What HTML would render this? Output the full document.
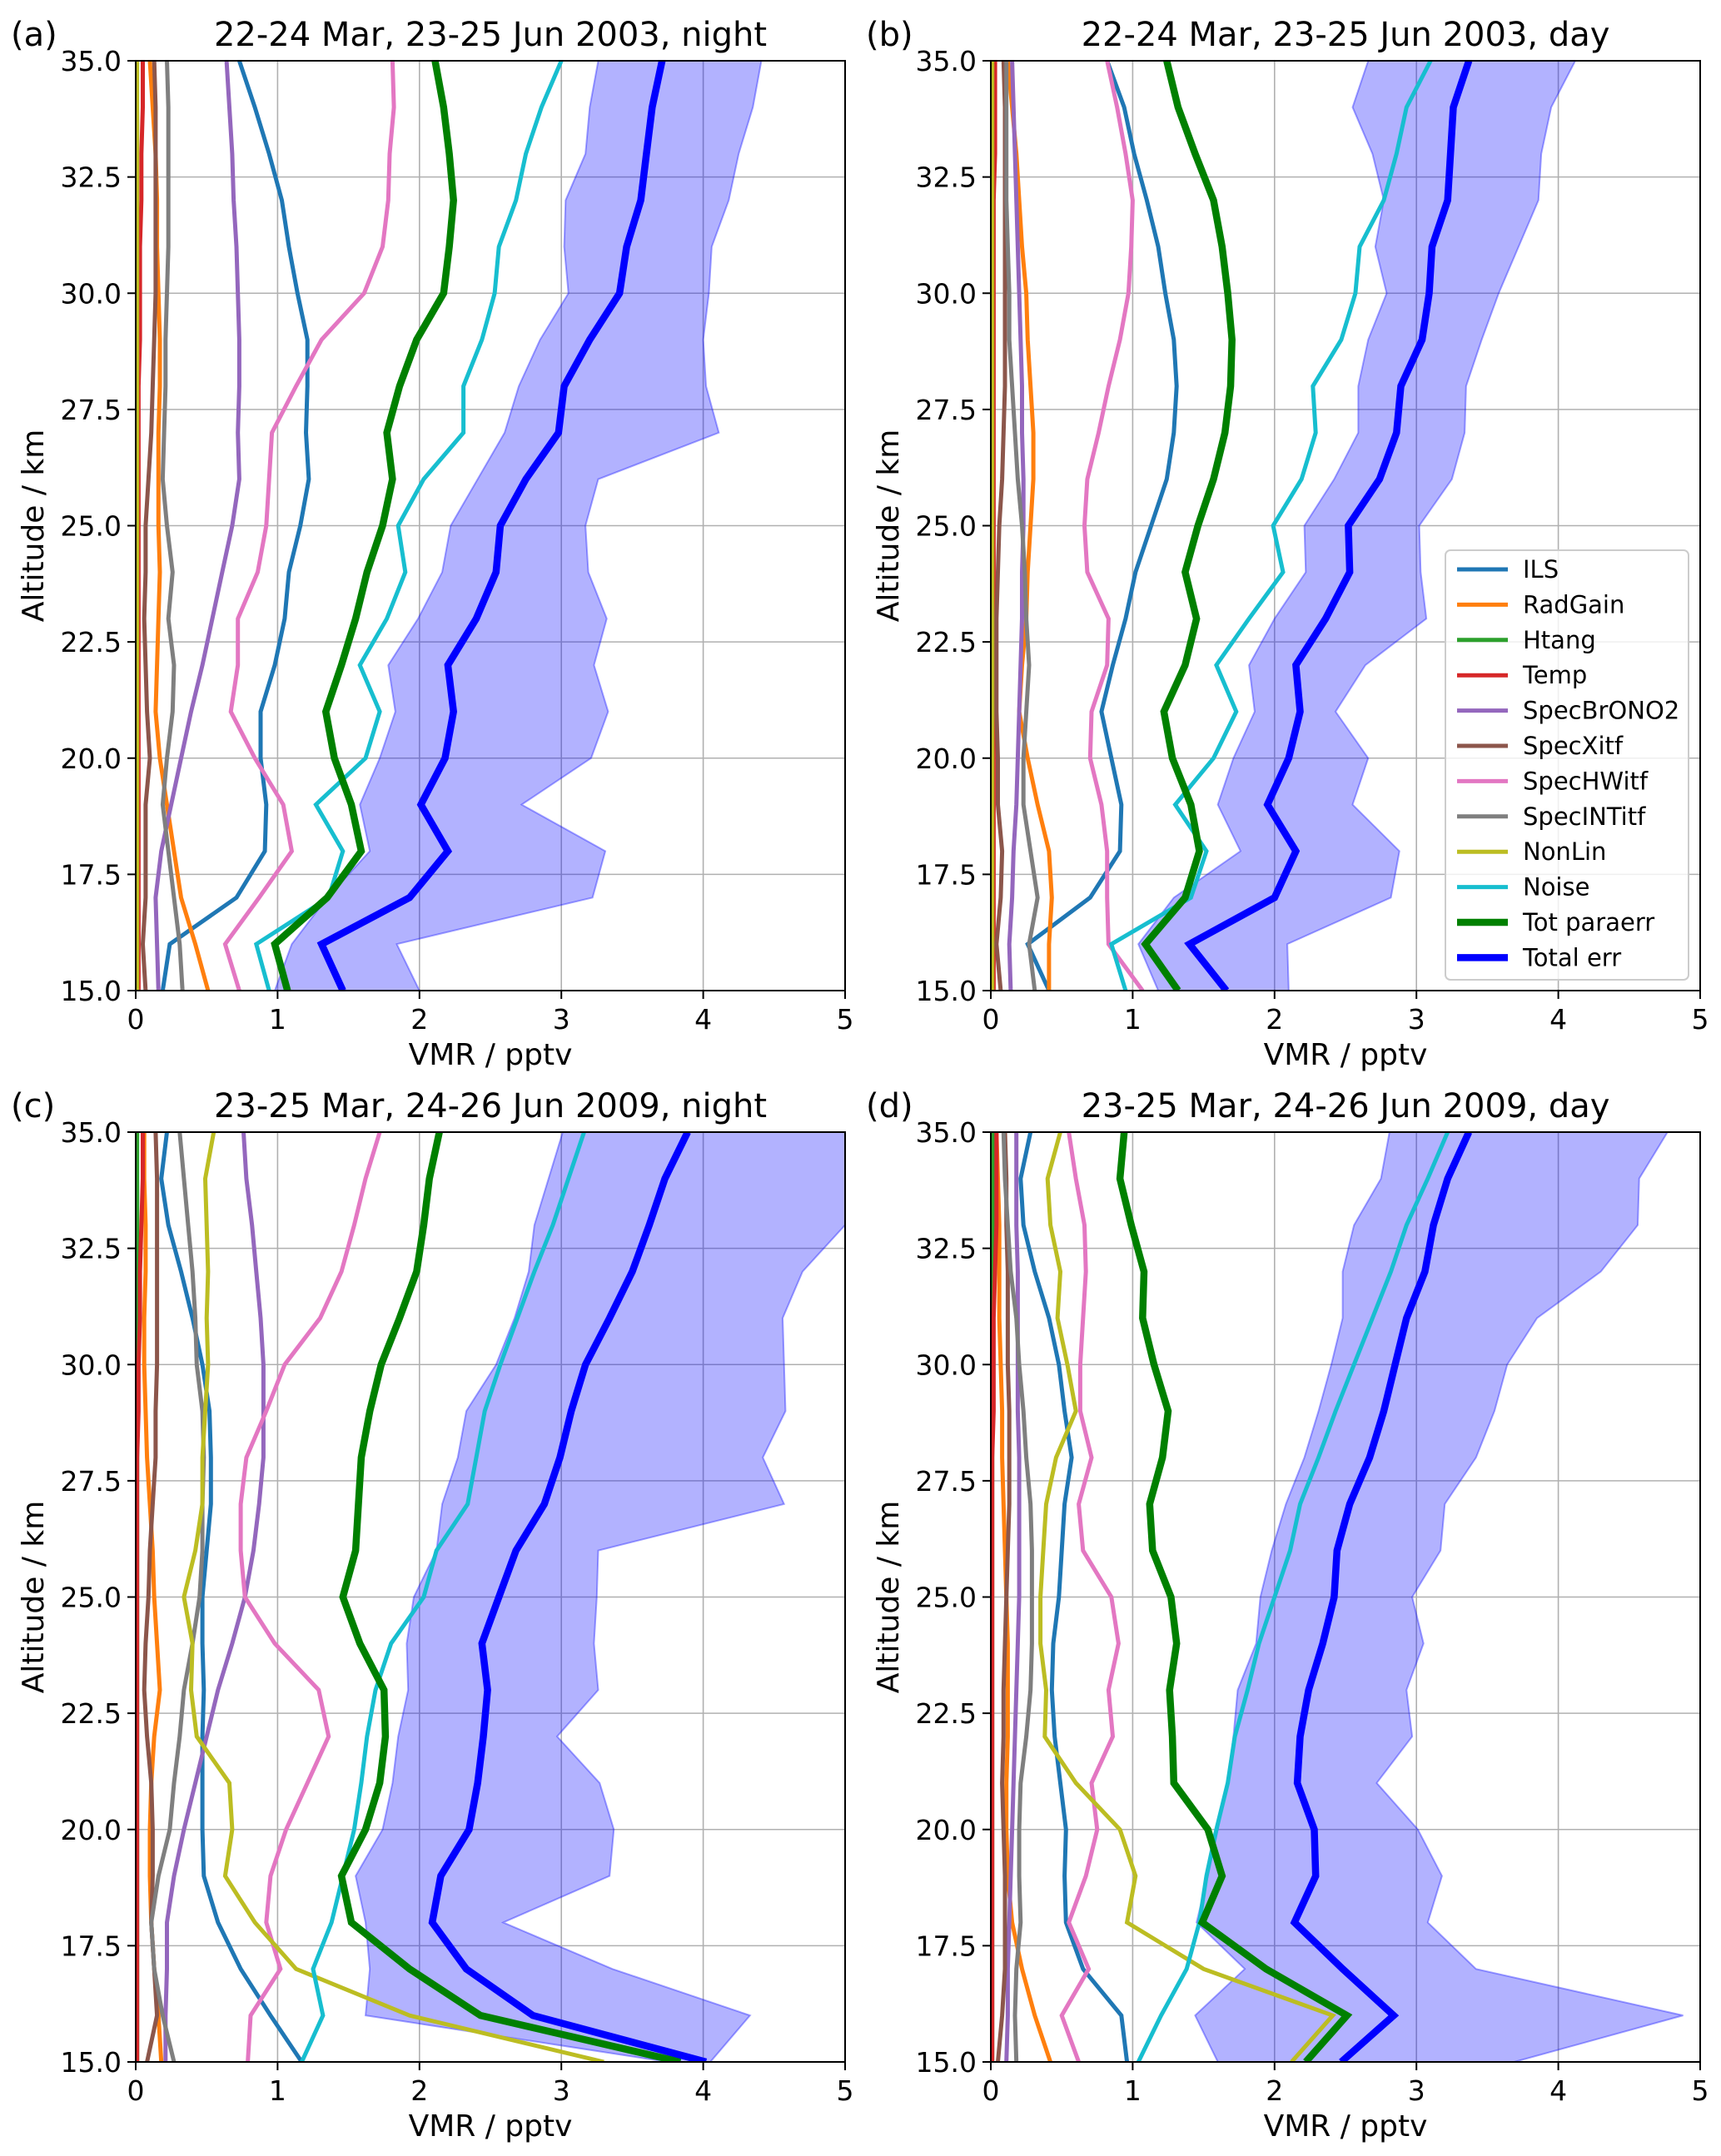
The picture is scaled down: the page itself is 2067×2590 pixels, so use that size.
<!DOCTYPE html>
<html><head><meta charset="utf-8"><style>
html,body{margin:0;padding:0;background:#fff;}
svg{display:block;font-family:"DejaVu Sans","Liberation Sans",sans-serif;}
</style></head><body>
<svg id="fig" width="2067" height="2590" viewBox="0 0 2067 2590" xmlns="http://www.w3.org/2000/svg"></svg>
<script>
// altitude grid (km), listed top (35) to bottom (15)
const altitudes = [35,34,33,32,31,30,29,28,27,26,25,24,23,22,21,20,19,18,17,16,15];
const seriesNames = ["ILS","RadGain","Htang","Temp","SpecBrONO2","SpecXitf","SpecHWitf","SpecINTitf","NonLin","Noise","Tot paraerr","Total err"];
const xTicks = [0,1,2,3,4,5];
const yTicks = [15.0,17.5,20.0,22.5,25.0,27.5,30.0,32.5,35.0];
const panelTitles = ["22-24 Mar, 23-25 Jun 2003, night","22-24 Mar, 23-25 Jun 2003, day","23-25 Mar, 24-26 Jun 2009, night","23-25 Mar, 24-26 Jun 2009, day"];
const panelLetters = ["(a)","(b)","(c)","(d)"];

// Panel (a)
const ILS_a = [0.73,0.84,0.94,1.03,1.08,1.14,1.21,1.21,1.2,1.22,1.16,1.08,1.05,0.98,0.88,0.88,0.92,0.91,0.71,0.24,0.19];
const RadGain_a = [0.1,0.12,0.14,0.15,0.15,0.16,0.17,0.17,0.16,0.16,0.16,0.17,0.16,0.15,0.14,0.17,0.22,0.27,0.32,0.42,0.51];
const Htang_a = [0.005,0.005,0.005,0.005,0.005,0.005,0.005,0.005,0.005,0.005,0.005,0.005,0.005,0.005,0.005,0.005,0.005,0.005,0.005,0.005,0.005];
const Temp_a = [0.05,0.05,0.04,0.04,0.03,0.03,0.03,0.02,0.02,0.02,0.02,0.02,0.02,0.02,0.02,0.02,0.02,0.02,0.02,0.02,0.02];
const BrONO2_a = [0.64,0.66,0.68,0.69,0.71,0.72,0.73,0.73,0.72,0.73,0.68,0.61,0.54,0.47,0.39,0.32,0.25,0.18,0.14,0.15,0.16];
const Xitf_a = [0.13,0.14,0.14,0.14,0.14,0.14,0.13,0.12,0.11,0.09,0.07,0.07,0.06,0.07,0.08,0.1,0.07,0.07,0.07,0.05,0.07];
const HWitf_a = [1.81,1.82,1.79,1.78,1.74,1.61,1.31,1.13,0.96,0.94,0.92,0.86,0.72,0.72,0.67,0.84,1.04,1.1,0.87,0.63,0.73];
const INTitf_a = [0.22,0.23,0.23,0.23,0.23,0.22,0.21,0.21,0.2,0.19,0.22,0.26,0.23,0.27,0.26,0.22,0.19,0.23,0.27,0.31,0.33];
const NonLin_a = [0.01,0.01,0.01,0.01,0.01,0.01,0.01,0.01,0.01,0.01,0.01,0.01,0.01,0.01,0.01,0.01,0.01,0.01,0.01,0.01,0.01];
const Noise_a = [3.0,2.86,2.75,2.68,2.56,2.53,2.44,2.31,2.31,2.03,1.85,1.9,1.77,1.58,1.72,1.62,1.27,1.46,1.36,0.85,0.94];
const TotPara_a = [2.11,2.17,2.21,2.24,2.21,2.17,1.98,1.86,1.77,1.81,1.74,1.63,1.55,1.45,1.34,1.4,1.52,1.59,1.35,0.98,1.07];
const Total_a = [3.71,3.64,3.6,3.56,3.46,3.41,3.2,3.02,2.98,2.75,2.57,2.54,2.4,2.2,2.24,2.18,2.01,2.2,1.93,1.31,1.46];
const Lo_a = [3.26,3.2,3.17,3.03,3.02,3.05,2.85,2.7,2.6,2.41,2.22,2.16,1.99,1.78,1.83,1.72,1.58,1.65,1.35,1.1,0.98];
const Hi_a = [4.41,4.35,4.25,4.18,4.06,4.04,4.0,4.02,4.11,3.26,3.17,3.19,3.32,3.23,3.33,3.21,2.72,3.31,3.22,1.84,2.0];

// Panel (b)
const ILS_b = [0.82,0.94,1.01,1.1,1.18,1.23,1.29,1.31,1.29,1.24,1.13,1.02,0.95,0.86,0.78,0.85,0.92,0.91,0.7,0.26,0.41];
const RadGain_b = [0.12,0.15,0.18,0.2,0.22,0.25,0.26,0.28,0.3,0.3,0.28,0.26,0.25,0.22,0.2,0.26,0.33,0.41,0.43,0.41,0.41];
const Htang_b = [0.005,0.005,0.005,0.005,0.005,0.005,0.005,0.005,0.005,0.005,0.005,0.005,0.005,0.005,0.005,0.005,0.005,0.005,0.005,0.005,0.005];
const Temp_b = [0.03,0.03,0.03,0.02,0.02,0.02,0.02,0.02,0.02,0.02,0.02,0.02,0.02,0.02,0.02,0.02,0.02,0.02,0.02,0.02,0.02];
const BrONO2_b = [0.15,0.16,0.17,0.18,0.19,0.2,0.21,0.22,0.22,0.23,0.23,0.22,0.22,0.21,0.2,0.19,0.18,0.16,0.15,0.13,0.14];
const Xitf_b = [0.09,0.1,0.1,0.1,0.1,0.1,0.1,0.1,0.09,0.08,0.06,0.05,0.04,0.04,0.04,0.05,0.05,0.08,0.07,0.04,0.07];
const HWitf_b = [0.82,0.89,0.95,1.0,0.99,0.97,0.91,0.83,0.76,0.68,0.66,0.68,0.83,0.82,0.71,0.7,0.78,0.82,0.82,0.83,1.07];
const INTitf_b = [0.11,0.11,0.11,0.11,0.12,0.13,0.13,0.15,0.17,0.19,0.22,0.24,0.25,0.27,0.25,0.23,0.23,0.28,0.33,0.27,0.31];
const NonLin_b = [0.01,0.01,0.01,0.01,0.01,0.01,0.01,0.01,0.01,0.01,0.01,0.01,0.01,0.01,0.01,0.01,0.01,0.01,0.01,0.01,0.01];
const Noise_b = [3.1,2.93,2.86,2.77,2.6,2.57,2.47,2.27,2.29,2.19,1.99,2.06,1.82,1.59,1.73,1.57,1.3,1.52,1.41,0.85,0.95];
const TotPara_b = [1.24,1.32,1.44,1.57,1.63,1.67,1.7,1.69,1.65,1.57,1.46,1.37,1.45,1.37,1.22,1.28,1.41,1.47,1.37,1.09,1.32];
const Total_b = [3.37,3.26,3.24,3.22,3.11,3.09,3.04,2.89,2.86,2.74,2.52,2.53,2.36,2.15,2.18,2.1,1.95,2.15,2.0,1.4,1.66];
const Lo_b = [2.66,2.55,2.69,2.77,2.71,2.79,2.66,2.59,2.59,2.42,2.21,2.22,2.0,1.82,1.86,1.71,1.6,1.76,1.29,1.04,1.18];
const Hi_b = [4.12,3.95,3.88,3.86,3.72,3.58,3.46,3.35,3.34,3.25,3.02,3.03,3.07,2.64,2.43,2.66,2.55,2.88,2.82,2.09,2.1];

// Panel (c)
const ILS_c = [0.22,0.18,0.23,0.32,0.4,0.47,0.52,0.53,0.53,0.5,0.47,0.47,0.48,0.47,0.47,0.47,0.48,0.58,0.74,0.95,1.17];
const RadGain_c = [0.06,0.06,0.07,0.07,0.06,0.06,0.07,0.08,0.1,0.12,0.13,0.15,0.17,0.13,0.11,0.1,0.1,0.11,0.13,0.16,0.18];
const Htang_c = [0.01,0.01,0.01,0.01,0.01,0.01,0.01,0.01,0.01,0.01,0.01,0.01,0.01,0.01,0.01,0.01,0.01,0.01,0.01,0.01,0.01];
const Temp_c = [0.05,0.05,0.04,0.03,0.03,0.02,0.02,0.01,0.01,0.01,0.01,0.01,0.01,0.01,0.01,0.01,0.01,0.01,0.01,0.01,0.01];
const BrONO2_c = [0.76,0.78,0.82,0.85,0.88,0.9,0.9,0.9,0.87,0.83,0.77,0.68,0.58,0.5,0.42,0.34,0.27,0.22,0.22,0.21,0.21];
const Xitf_c = [0.14,0.15,0.15,0.15,0.15,0.15,0.14,0.14,0.12,0.1,0.09,0.07,0.06,0.08,0.11,0.12,0.12,0.11,0.13,0.15,0.08];
const HWitf_c = [1.72,1.62,1.54,1.45,1.3,1.05,0.92,0.78,0.74,0.74,0.77,0.98,1.29,1.36,1.21,1.06,0.95,0.92,1.02,0.81,0.79];
const INTitf_c = [0.31,0.34,0.37,0.4,0.42,0.43,0.47,0.48,0.47,0.47,0.45,0.4,0.34,0.31,0.27,0.24,0.16,0.11,0.13,0.19,0.27];
const NonLin_c = [0.55,0.49,0.5,0.51,0.5,0.51,0.49,0.47,0.47,0.42,0.34,0.4,0.39,0.43,0.66,0.68,0.63,0.84,1.13,1.93,3.3];
const Noise_c = [3.16,3.05,2.94,2.81,2.69,2.57,2.46,2.4,2.34,2.12,2.03,1.8,1.69,1.63,1.59,1.54,1.46,1.38,1.25,1.32,1.17];
const TotPara_c = [2.14,2.07,2.03,1.98,1.86,1.73,1.65,1.59,1.57,1.55,1.46,1.58,1.75,1.76,1.72,1.62,1.45,1.52,1.93,2.43,3.84];
const Total_c = [3.89,3.73,3.62,3.5,3.34,3.17,3.07,2.99,2.88,2.68,2.56,2.44,2.48,2.45,2.41,2.35,2.15,2.09,2.33,2.8,4.02];
const Lo_c = [3.01,2.91,2.81,2.77,2.67,2.54,2.33,2.27,2.16,2.12,1.96,1.91,1.92,1.85,1.81,1.74,1.55,1.62,1.65,1.62,3.75];
const Hi_c = [5.5,5.25,5.0,4.7,4.56,4.57,4.58,4.42,4.57,3.26,3.25,3.23,3.26,2.97,3.27,3.37,3.34,2.59,3.36,4.33,4.05];

// Panel (d)
const ILS_d = [0.28,0.21,0.23,0.31,0.41,0.48,0.52,0.57,0.52,0.5,0.48,0.44,0.43,0.45,0.49,0.53,0.52,0.53,0.65,0.92,0.96];
const RadGain_d = [0.04,0.05,0.06,0.06,0.06,0.07,0.08,0.08,0.09,0.1,0.11,0.12,0.12,0.12,0.11,0.11,0.12,0.15,0.22,0.31,0.42];
const Htang_d = [0.015,0.015,0.015,0.015,0.015,0.01,0.01,0.01,0.01,0.01,0.01,0.01,0.01,0.01,0.01,0.01,0.01,0.01,0.01,0.01,0.01];
const Temp_d = [0.04,0.04,0.04,0.03,0.02,0.02,0.02,0.01,0.01,0.01,0.01,0.01,0.01,0.01,0.01,0.01,0.01,0.01,0.01,0.01,0.01];
const BrONO2_d = [0.18,0.18,0.18,0.19,0.19,0.19,0.19,0.2,0.2,0.2,0.2,0.19,0.18,0.17,0.16,0.15,0.14,0.13,0.12,0.12,0.11];
const Xitf_d = [0.1,0.11,0.11,0.12,0.12,0.12,0.13,0.13,0.13,0.12,0.11,0.1,0.09,0.09,0.08,0.09,0.1,0.1,0.1,0.08,0.05];
const HWitf_d = [0.55,0.6,0.66,0.67,0.65,0.63,0.63,0.71,0.62,0.65,0.85,0.9,0.83,0.86,0.71,0.75,0.67,0.55,0.69,0.5,0.62];
const INTitf_d = [0.09,0.1,0.12,0.14,0.18,0.2,0.23,0.25,0.28,0.29,0.29,0.29,0.28,0.25,0.21,0.2,0.2,0.21,0.18,0.17,0.18];
const NonLin_d = [0.49,0.4,0.42,0.49,0.47,0.54,0.6,0.46,0.39,0.37,0.35,0.35,0.39,0.38,0.6,0.91,1.02,0.96,1.5,2.41,2.12];
const Noise_d = [3.22,3.08,2.93,2.82,2.69,2.56,2.43,2.31,2.18,2.11,2.0,1.89,1.81,1.72,1.67,1.59,1.52,1.47,1.38,1.2,1.04];
const TotPara_d = [0.94,0.91,0.99,1.08,1.07,1.15,1.25,1.21,1.12,1.14,1.27,1.31,1.26,1.28,1.29,1.53,1.63,1.49,1.94,2.51,2.22];
const Total_d = [3.37,3.22,3.12,3.06,2.93,2.85,2.77,2.67,2.53,2.44,2.42,2.34,2.24,2.18,2.16,2.28,2.29,2.14,2.48,2.84,2.47];
const Lo_d = [2.81,2.75,2.56,2.48,2.48,2.4,2.31,2.21,2.08,1.98,1.9,1.87,1.74,1.71,1.67,1.6,1.53,1.45,1.79,1.44,1.6];
const Hi_d = [4.77,4.57,4.56,4.3,3.85,3.64,3.55,3.42,3.2,3.17,2.97,3.05,2.93,2.97,2.72,3.01,3.18,3.08,3.42,4.88,3.69];

const panelSeries = [
  [ILS_a,RadGain_a,Htang_a,Temp_a,BrONO2_a,Xitf_a,HWitf_a,INTitf_a,NonLin_a,Noise_a,TotPara_a,Total_a],
  [ILS_b,RadGain_b,Htang_b,Temp_b,BrONO2_b,Xitf_b,HWitf_b,INTitf_b,NonLin_b,Noise_b,TotPara_b,Total_b],
  [ILS_c,RadGain_c,Htang_c,Temp_c,BrONO2_c,Xitf_c,HWitf_c,INTitf_c,NonLin_c,Noise_c,TotPara_c,Total_c],
  [ILS_d,RadGain_d,Htang_d,Temp_d,BrONO2_d,Xitf_d,HWitf_d,INTitf_d,NonLin_d,Noise_d,TotPara_d,Total_d]
];
const panelLo = [Lo_a,Lo_b,Lo_c,Lo_d];
const panelHi = [Hi_a,Hi_b,Hi_c,Hi_d];

const colors = ["#1f77b4","#ff7f0e","#2ca02c","#d62728","#9467bd","#8c564b","#e377c2","#7f7f7f","#bcbd22","#17becf","#008000","#0000ff"];
const widths = [5,5,5,5,5,5,5,5,5,5,8.5,8.5];
const slugs = ["ils","radgain","htang","temp","specbrono2","specxitf","spechwitf","specintitf","nonlin","noise","tot-paraerr","total-err"];
const layout = [
  {x0:163,x1:1015,y0:73,y1:1190},
  {x0:1190,x1:2042,y0:73,y1:1190},
  {x0:163,x1:1015,y0:1360,y1:2477},
  {x0:1190,x1:2042,y0:1360,y1:2477}
];

const NS = "http://www.w3.org/2000/svg";
const svg = document.getElementById("fig");
function mk(tag, attrs, parent){
  const e = document.createElementNS(NS, tag);
  for (const k in attrs) e.setAttribute(k, attrs[k]);
  (parent||svg).appendChild(e);
  return e;
}

layout.forEach((L, p) => {
  const xs = v => L.x0 + (v/5)*(L.x1-L.x0);
  const ys = a => L.y1 - ((a-15)/20)*(L.y1-L.y0);
  const g = mk("g", {});
  
  
  const cp = mk("clipPath", {id:"clip"+p}, g);
  mk("rect", {x:L.x0, y:L.y0, width:L.x1-L.x0, height:L.y1-L.y0}, cp);

  xTicks.forEach(t => {
    const l = mk("line", {x1:xs(t),x2:xs(t),y1:L.y0,y2:L.y1,stroke:"#b0b0b0","stroke-width":1.6}, g);
    
    
  });
  yTicks.forEach(t => {
    const l = mk("line", {x1:L.x0,x2:L.x1,y1:ys(t),y2:ys(t),stroke:"#b0b0b0","stroke-width":1.6}, g);
    
    
  });

  const lo = panelLo[p], hi = panelHi[p];
  let pts = [];
  altitudes.forEach((a,i) => pts.push(xs(lo[i])+","+ys(a)));
  for (let i = altitudes.length-1; i >= 0; i--) pts.push(xs(hi[i])+","+ys(altitudes[i]));
  const band = mk("polygon", {points:pts.join(" "), fill:"#0000ff","fill-opacity":0.3, stroke:"#0000ff","stroke-opacity":0.35,"stroke-width":2,"clip-path":"url(#clip"+p+")"}, g);
  
  

  panelSeries[p].forEach((arr, s) => {
    const d = altitudes.map((a,i) => (i?"L":"M")+xs(arr[i]).toFixed(1)+","+ys(a).toFixed(1)).join(" ");
    const path = mk("path", {d:d, fill:"none", stroke:colors[s], "stroke-width":widths[s], "stroke-linejoin":"miter","stroke-linecap":"butt","clip-path":"url(#clip"+p+")"}, g);
    
    
  });

  const frame = mk("rect", {x:L.x0,y:L.y0,width:L.x1-L.x0,height:L.y1-L.y0,fill:"none",stroke:"#000","stroke-width":2}, g);
  
  

  xTicks.forEach(t => {
    mk("line", {x1:xs(t),x2:xs(t),y1:L.y1,y2:L.y1+10,stroke:"#000","stroke-width":2}, g);
    const tx = mk("text", {x:xs(t), y:L.y1+46, "font-size":33, "text-anchor":"middle", fill:"#000"}, g);
    tx.textContent = String(t);
    
    
  });
  yTicks.forEach(t => {
    mk("line", {x1:L.x0-10,x2:L.x0,y1:ys(t),y2:ys(t),stroke:"#000","stroke-width":2}, g);
    const tx = mk("text", {x:L.x0-17, y:ys(t)+12, "font-size":33, "text-anchor":"end", fill:"#000"}, g);
    tx.textContent = t.toFixed(1);
    
    
  });

  const xl = mk("text", {x:(L.x0+L.x1)/2, y:L.y1+89, "font-size":36, "text-anchor":"middle"}, g);
  xl.textContent = "VMR / pptv";
  
  

  const ymid = (L.y0+L.y1)/2;
  const yl = mk("text", {x:0, y:0, "font-size":36, "text-anchor":"middle", transform:"translate("+(L.x0-111)+","+ymid+") rotate(-90)"}, g);
  yl.textContent = "Altitude / km";
  
  

  const tt = mk("text", {x:(L.x0+L.x1)/2, y:L.y0-18, "font-size":40, "text-anchor":"middle"}, g);
  tt.textContent = panelTitles[p];
  
  

  const pl = mk("text", {x:L.x0-150, y:L.y0-18, "font-size":40, "text-anchor":"start"}, g);
  pl.textContent = panelLetters[p];
  
  
});

// legend in panel (b)
const lg = mk("g", {});


const lbox = mk("rect", {x:1736,y:661,width:292,height:516,rx:6,fill:"#fff","fill-opacity":0.8,stroke:"#cccccc","stroke-width":2}, lg);


seriesNames.forEach((n, s) => {
  const y = 684 + s*42.4;
  const ln = mk("line", {x1:1750,x2:1811,y1:y,y2:y,stroke:colors[s],"stroke-width":widths[s]}, lg);
  
  
  const t = mk("text", {x:1829,y:y+10,"font-size":29}, lg);
  t.textContent = n;
  
  
});
</script>
</body></html>
